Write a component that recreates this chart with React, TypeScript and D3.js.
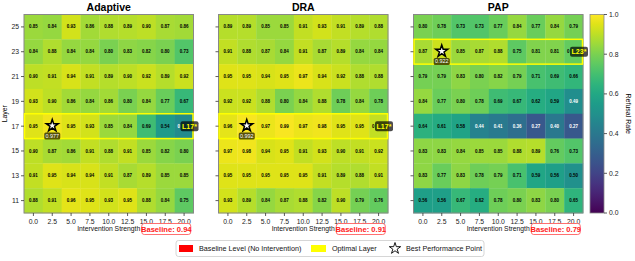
import * as d3 from "d3";

const strengths = ["0.0", "2.5", "5.0", "7.5", "10.0", "12.5", "15.0", "17.5", "20.0"];
const layers = [25, 23, 21, 19, 17, 15, 13, 11];

// rows follow layers top-down
const adaptive = [
  [0.85, 0.84, 0.93, 0.86, 0.88, 0.89, 0.90, 0.87, 0.86],
  [0.84, 0.88, 0.84, 0.84, 0.80, 0.83, 0.82, 0.80, 0.73],
  [0.90, 0.91, 0.94, 0.91, 0.89, 0.90, 0.92, 0.89, 0.92],
  [0.93, 0.90, 0.86, 0.84, 0.86, 0.80, 0.84, 0.77, 0.67],
  [0.95, 0.977, 0.95, 0.93, 0.85, 0.84, 0.69, 0.54, 0.48],
  [0.90, 0.87, 0.86, 0.91, 0.88, 0.91, 0.85, 0.82, 0.80],
  [0.91, 0.95, 0.94, 0.94, 0.91, 0.87, 0.89, 0.85, 0.85],
  [0.88, 0.91, 0.96, 0.95, 0.93, 0.95, 0.88, 0.84, 0.75],
];
const dra = [
  [0.89, 0.89, 0.85, 0.85, 0.91, 0.93, 0.91, 0.89, 0.88],
  [0.91, 0.88, 0.87, 0.84, 0.91, 0.87, 0.89, 0.84, 0.84],
  [0.95, 0.95, 0.94, 0.95, 0.97, 0.94, 0.92, 0.88, 0.88],
  [0.92, 0.92, 0.88, 0.80, 0.84, 0.88, 0.78, 0.84, 0.78],
  [0.96, 0.992, 0.97, 0.99, 0.97, 0.98, 0.95, 0.95, 0.91],
  [0.97, 0.98, 0.94, 0.95, 0.91, 0.93, 0.90, 0.91, 0.92],
  [0.95, 0.95, 0.95, 0.95, 0.95, 0.91, 0.89, 0.88, 0.91],
  [0.93, 0.89, 0.84, 0.87, 0.88, 0.82, 0.90, 0.79, 0.76],
];
const pap = [
  [0.80, 0.78, 0.73, 0.73, 0.77, 0.84, 0.77, 0.84, 0.79],
  [0.87, 0.922, 0.85, 0.87, 0.88, 0.75, 0.81, 0.81, 0.76],
  [0.79, 0.79, 0.83, 0.80, 0.82, 0.79, 0.71, 0.69, 0.66],
  [0.84, 0.77, 0.80, 0.78, 0.69, 0.67, 0.62, 0.59, 0.49],
  [0.64, 0.61, 0.58, 0.44, 0.41, 0.36, 0.27, 0.40, 0.27],
  [0.83, 0.83, 0.84, 0.85, 0.85, 0.88, 0.89, 0.76, 0.73],
  [0.83, 0.77, 0.83, 0.78, 0.79, 0.71, 0.59, 0.56, 0.50],
  [0.56, 0.56, 0.67, 0.62, 0.78, 0.80, 0.83, 0.80, 0.65],
];

const titles = ["Adaptive", "DRA", "PAP"];
const matrices = [adaptive, dra, pap];
const baselines = [0.94, 0.91, 0.79];
const optimalLayers = [17, 17, 23];
const bestStrengths = ["2.5", "2.5", "2.5"];
const bestValues = [0.977, 0.992, 0.922];
const cbTicks = [0, 0.2, 0.4, 0.6, 0.8, 1.0];

const W = 635;
const H = 261;
const top = 14.5;
const bottom = 213;
const panelLeft = [24, 218.5, 413.5];
const panelW = 169.5;
const font = "'Liberation Sans', Arial, sans-serif";

function Panel({ idx }: { idx: number }) {
  const x0 = panelLeft[idx];
  const x = d3.scaleBand<string>().domain(strengths).range([x0, x0 + panelW]);
  const y = d3.scaleBand<number>().domain(layers).range([top, bottom]);
  const color = d3.scaleSequential(d3.interpolateViridis).domain([0, 1]);
  const data = matrices[idx];
  const opt = optimalLayers[idx];
  const bx = x(bestStrengths[idx])! + x.bandwidth() / 2;
  const by = y(opt)! + y.bandwidth() / 2;
  const star = d3.symbol(d3.symbolStar, 44)()!;
  const cx = (x0 + x0 + panelW) / 2;

  return (
    <g>
      <text x={cx} y={11} textAnchor="middle" fontSize={10.5} fontWeight="bold">{titles[idx]}</text>
      {layers.map((l, r) =>
        strengths.map((s, c) => {
          const v = data[r][c];
          const isBest = l === opt && s === bestStrengths[idx];
          const isCovered = l === opt && c === strengths.length - 1;
          return (
            <g key={`${r}-${c}`}>
              <rect x={x(s)} y={y(l)} width={x.bandwidth() + 0.3} height={y.bandwidth() + 0.3} fill={color(v)} />
              {!isBest && (
                <text x={x(s)! + x.bandwidth() / 2} y={y(l)! + y.bandwidth() / 2} dy="0.35em"
                  textAnchor={isCovered ? "start" : "middle"}
                  dx={isCovered ? -6.5 : 0}
                  fontSize={4.5} fontWeight="bold" fill={v < 0.5 ? "white" : "black"}>
                  {isCovered ? v.toFixed(2).slice(0, 1) : v.toFixed(2)}
                </text>
              )}
            </g>
          );
        })
      )}
      <rect x={x0} y={top} width={panelW} height={bottom - top} fill="none" stroke="#888" strokeWidth={1} />
      <rect x={x0 + 0.5} y={y(opt)} width={panelW - 1} height={y.bandwidth()} fill="none" stroke="#ffff00" strokeWidth={1.5} />
      <path d={star} transform={`translate(${bx},${by - 0.5})`} fill="white" stroke="black" strokeWidth={1.5} />
      <rect x={bx - 8} y={by + 6.3} width={16} height={7} rx={1.5} fill="black" fillOpacity={0.65} />
      <text x={bx} y={by + 9.8} dy="0.35em" textAnchor="middle" fontSize={5.4} fill="white">{bestValues[idx].toFixed(3)}</text>
      <rect x={x0 + panelW - 13} y={by - 5} width={18} height={10} rx={2} fill="black" fillOpacity={0.7} />
      <text x={x0 + panelW - 4} y={by} dy="0.35em" textAnchor="middle" fontSize={7} fontWeight="bold" fill="#ffff00">{`L${opt}*`}</text>
      {/* y ticks */}
      {layers.map((l) => (
        <g key={l}>
          <line x1={x0 - 3} x2={x0} y1={y(l)! + y.bandwidth() / 2} y2={y(l)! + y.bandwidth() / 2} stroke="#333" strokeWidth={0.8} />
          {idx === 0 && (
            <text x={x0 - 5} y={y(l)! + y.bandwidth() / 2} dy="0.35em" textAnchor="end" fontSize={6.8} fill="#222">{l}</text>
          )}
        </g>
      ))}
      {/* x ticks */}
      {strengths.map((s) => (
        <g key={s}>
          <line x1={x(s)! + x.bandwidth() / 2} x2={x(s)! + x.bandwidth() / 2} y1={bottom} y2={bottom + 3} stroke="#333" strokeWidth={0.8} />
          <text x={x(s)! + x.bandwidth() / 2} y={bottom + 9} dy="0.35em" textAnchor="middle" fontSize={6.8} fill="#222">{s}</text>
        </g>
      ))}
      <text x={cx} y={229} dy="0.35em" textAnchor="middle" fontSize={6.8} fill="#111">Intervention Strength</text>
      <rect x={cx + 33} y={223.5} width={49} height={11} rx={2.5} fill="white" stroke="#ff6060" strokeWidth={0.9} />
      <text x={cx + 57.5} y={229} dy="0.35em" textAnchor="middle" fontSize={7.6} fontWeight="bold" fill="#ff1a1a">{`Baseline: ${baselines[idx].toFixed(2)}`}</text>
      {idx === 0 && (
        <text transform={`translate(7,${(top + bottom) / 2}) rotate(-90)`} textAnchor="middle" fontSize={6.8}>Layer</text>
      )}
    </g>
  );
}

function Colorbar() {
  const x0 = 590;
  const w = 14;
  const y = d3.scaleLinear().domain([0, 1]).range([bottom, top]);
  const stops = d3.range(0, 1.0001, 0.05);
  return (
    <g>
      <defs>
        <linearGradient id="vir" x1="0" y1="1" x2="0" y2="0">
          {stops.map((t) => (
            <stop key={t} offset={t} stopColor={d3.interpolateViridis(t)} />
          ))}
        </linearGradient>
      </defs>
      <rect x={x0} y={top} width={w} height={bottom - top} fill="url(#vir)" stroke="#888" strokeWidth={0.8} />
      {cbTicks.map((t) => (
        <g key={t}>
          <line x1={x0 + w} x2={x0 + w + 3} y1={y(t)} y2={y(t)} stroke="#333" strokeWidth={0.8} />
          <text x={x0 + w + 5} y={y(t)} dy="0.35em" fontSize={6.8} fill="#222">{t.toFixed(1)}</text>
        </g>
      ))}
      <text transform={`translate(626,${(top + bottom) / 2}) rotate(90)`} textAnchor="middle" fontSize={7}>Refusal Rate</text>
    </g>
  );
}

function Legend() {
  const star = d3.symbol(d3.symbolStar, 40)()!;
  return (
    <g fontSize={7.2} fill="#111">
      <rect x={176} y={240.5} width={308} height={16} rx={2.5} fill="white" stroke="#ccc" strokeWidth={0.8} />
      <rect x={179} y={245} width={14} height={7} fill="#ff0000" />
      <text x={199} y={248.5} dy="0.35em">Baseline Level (No Intervention)</text>
      <rect x={311} y={245} width={15} height={7} fill="#ffff00" />
      <text x={332} y={248.5} dy="0.35em">Optimal Layer</text>
      <path d={star} transform="translate(395,248.5)" fill="white" stroke="black" strokeWidth={0.9} />
      <text x={406} y={248.5} dy="0.35em">Best Performance Point</text>
    </g>
  );
}

export default function App() {
  return (
    <svg width={W} height={H} style={{ position: "absolute", left: 0, top: 0, background: "white" }} fontFamily={font}>
      {[0, 1, 2].map((i) => (
        <Panel key={i} idx={i} />
      ))}
      <Colorbar />
      <Legend />
    </svg>
  );
}
